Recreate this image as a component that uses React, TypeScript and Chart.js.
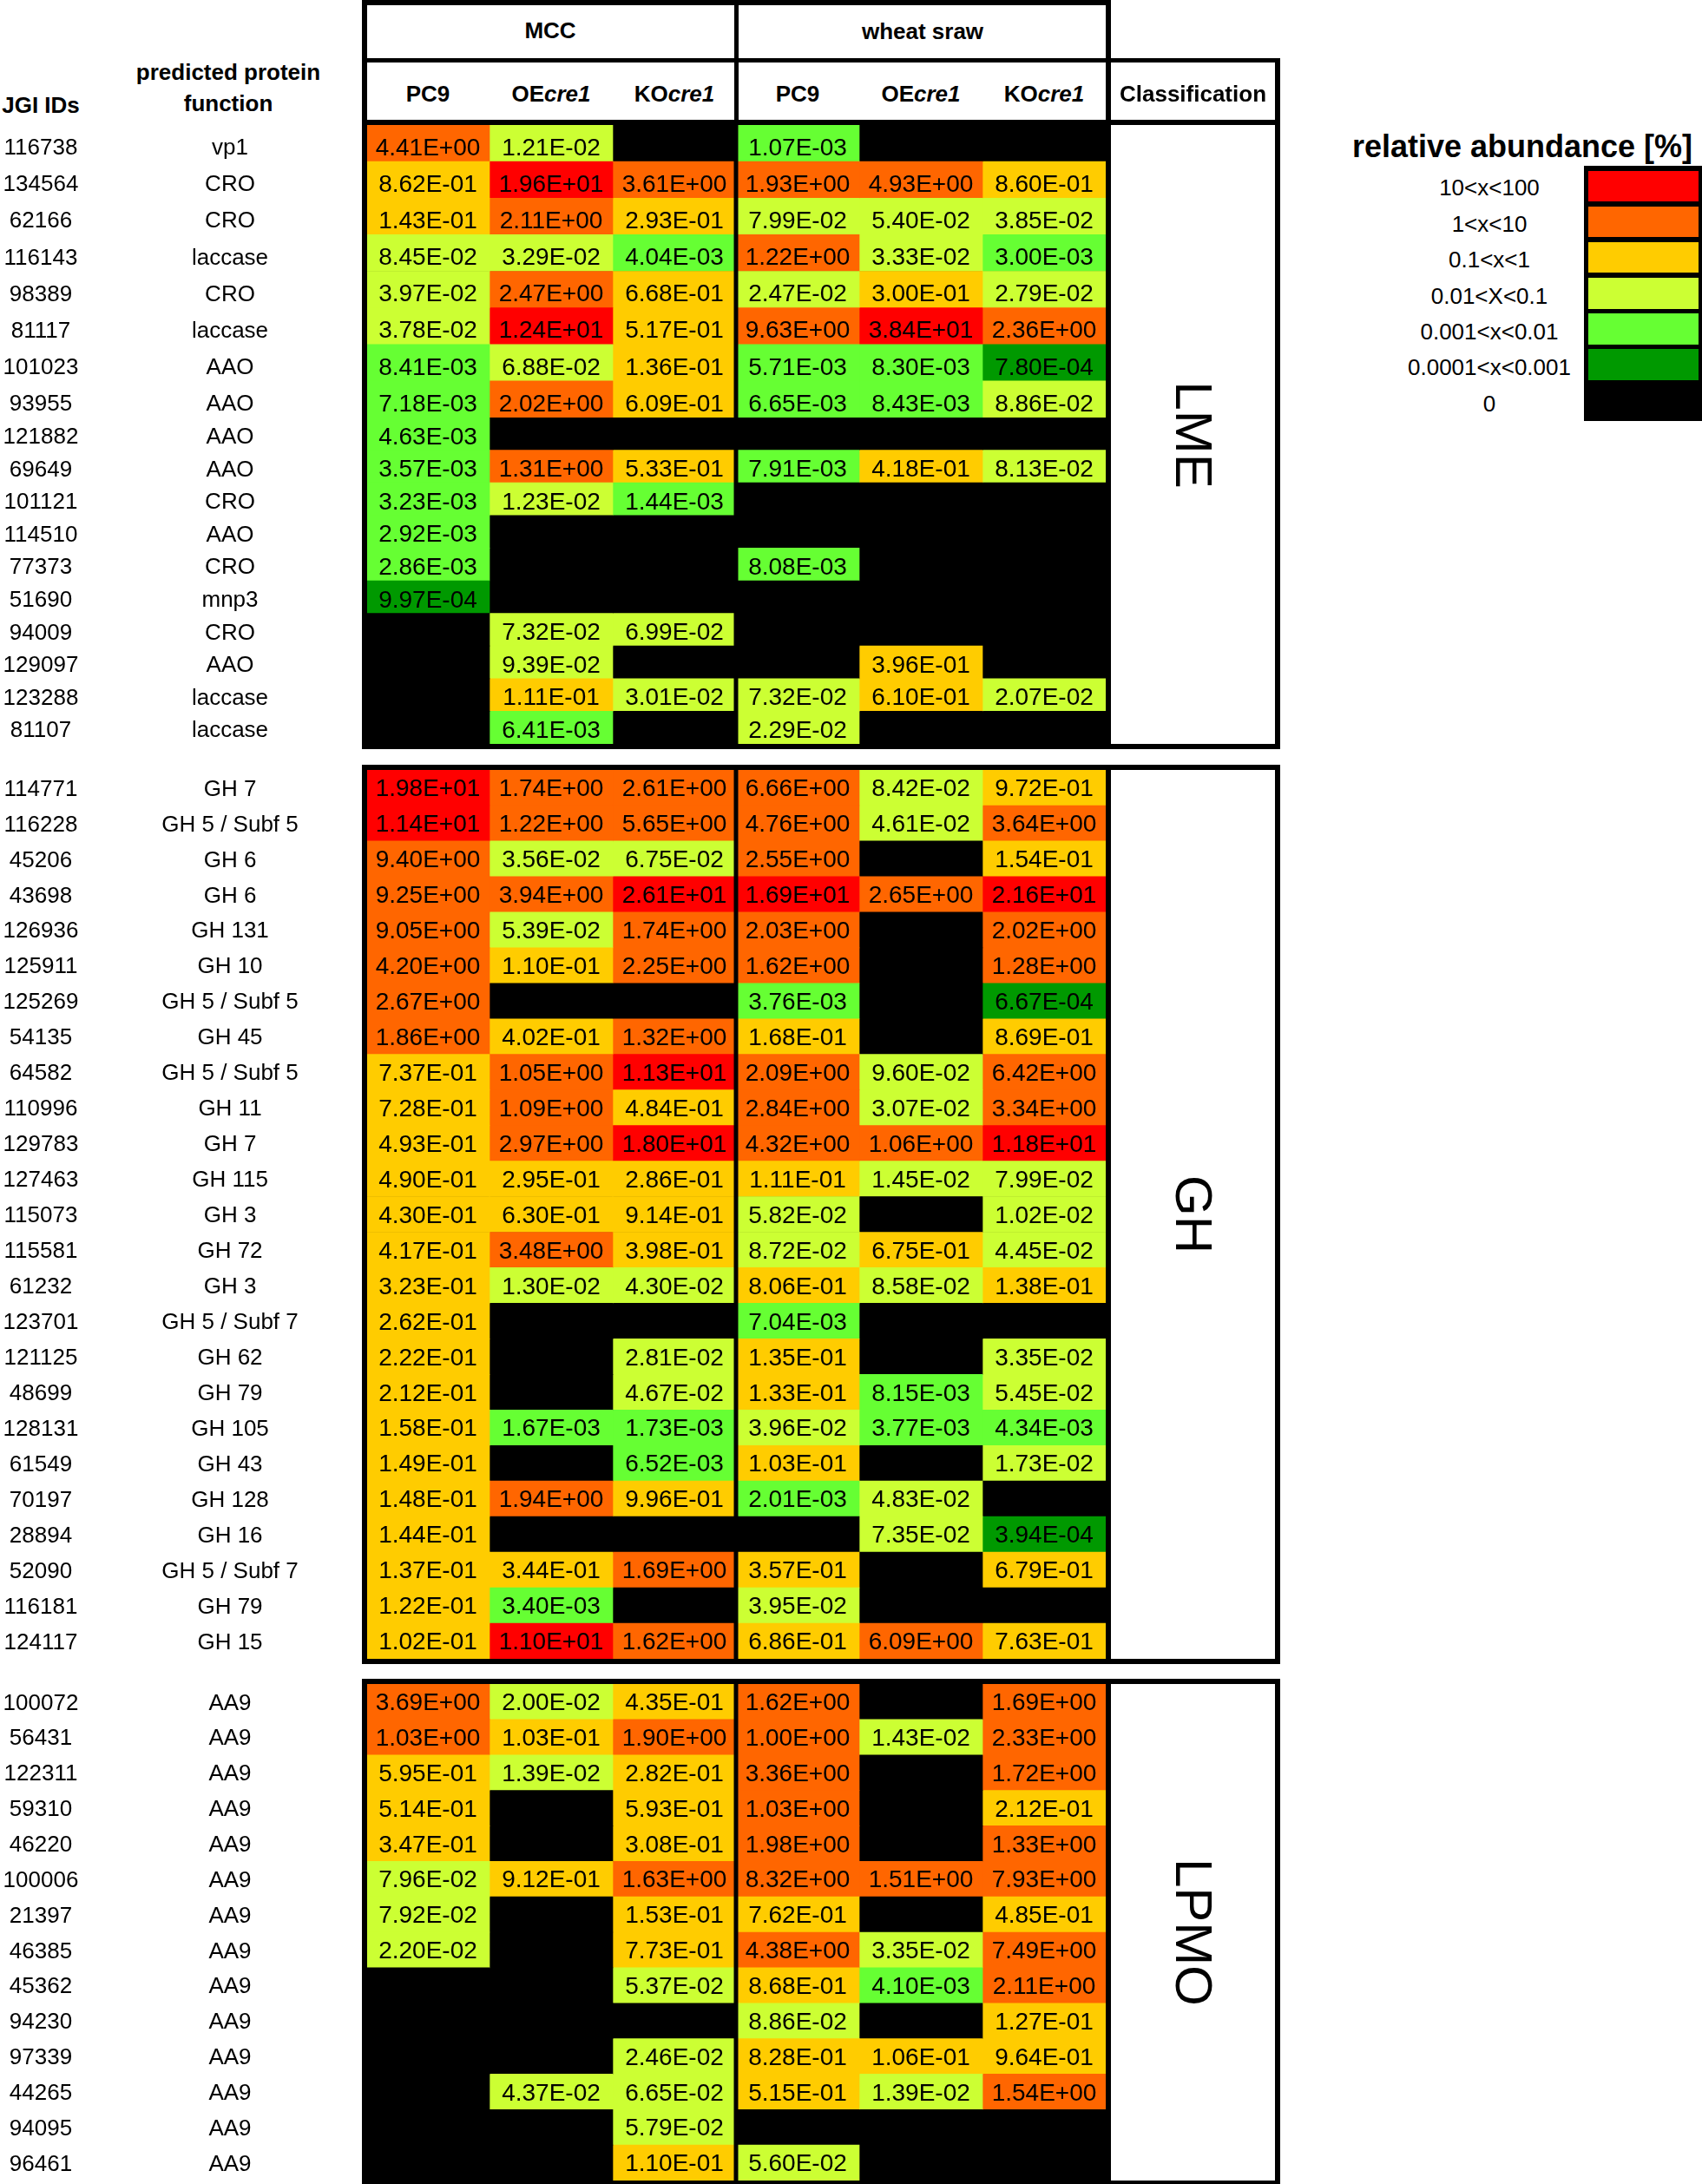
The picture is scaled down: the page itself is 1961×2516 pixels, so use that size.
import React, { useEffect, useRef } from "react";
import { Chart, registerables } from "chart.js";

Chart.register(...registerables);

// ---------------- data ----------------
const conditions = ["MCC", "wheat sraw"];
const strainPrefixes = ["PC9", "OE", "KO"];
const strainSuffixes = ["", "cre1", "cre1"];
const classificationLabels = ["LME", "GH", "LPMO"];

const legendTitle = "relative abundance [%]";
const legendLabels = ["10<x<100", "1<x<10", "0.1<x<1", "0.01<X<0.1", "0.001<x<0.01", "0.0001<x<0.001", "0"];
const legendColors = ["#FF0000", "#FF6600", "#FFCC00", "#CCFF33", "#66FF33", "#009900", "#000000"];
const colorThresholds = [10, 1, 0.1, 0.01, 0.001, 0.0001];

const lmeIds = ["116738", "134564", "62166", "116143", "98389", "81117", "101023", "93955", "121882", "69649", "101121", "114510", "77373", "51690", "94009", "129097", "123288", "81107"];
const lmeFunctions = ["vp1", "CRO", "CRO", "laccase", "CRO", "laccase", "AAO", "AAO", "AAO", "AAO", "CRO", "AAO", "CRO", "mnp3", "CRO", "AAO", "laccase", "laccase"];
// columns: MCC PC9, MCC OEcre1, MCC KOcre1, wheat PC9, wheat OEcre1, wheat KOcre1
const lmeValues = [
  [4.41e0, 1.21e-2, 0, 1.07e-3, 0, 0],
  [8.62e-1, 1.96e1, 3.61e0, 1.93e0, 4.93e0, 8.6e-1],
  [1.43e-1, 2.11e0, 2.93e-1, 7.99e-2, 5.4e-2, 3.85e-2],
  [8.45e-2, 3.29e-2, 4.04e-3, 1.22e0, 3.33e-2, 3.0e-3],
  [3.97e-2, 2.47e0, 6.68e-1, 2.47e-2, 3.0e-1, 2.79e-2],
  [3.78e-2, 1.24e1, 5.17e-1, 9.63e0, 3.84e1, 2.36e0],
  [8.41e-3, 6.88e-2, 1.36e-1, 5.71e-3, 8.3e-3, 7.8e-4],
  [7.18e-3, 2.02e0, 6.09e-1, 6.65e-3, 8.43e-3, 8.86e-2],
  [4.63e-3, 0, 0, 0, 0, 0],
  [3.57e-3, 1.31e0, 5.33e-1, 7.91e-3, 4.18e-1, 8.13e-2],
  [3.23e-3, 1.23e-2, 1.44e-3, 0, 0, 0],
  [2.92e-3, 0, 0, 0, 0, 0],
  [2.86e-3, 0, 0, 8.08e-3, 0, 0],
  [9.97e-4, 0, 0, 0, 0, 0],
  [0, 7.32e-2, 6.99e-2, 0, 0, 0],
  [0, 9.39e-2, 0, 0, 3.96e-1, 0],
  [0, 1.11e-1, 3.01e-2, 7.32e-2, 6.1e-1, 2.07e-2],
  [0, 6.41e-3, 0, 2.29e-2, 0, 0],
];

const ghIds = ["114771", "116228", "45206", "43698", "126936", "125911", "125269", "54135", "64582", "110996", "129783", "127463", "115073", "115581", "61232", "123701", "121125", "48699", "128131", "61549", "70197", "28894", "52090", "116181", "124117"];
const ghFunctions = ["GH 7", "GH 5 / Subf 5", "GH 6", "GH 6", "GH 131", "GH 10", "GH 5 / Subf 5", "GH 45", "GH 5 / Subf 5", "GH 11", "GH 7", "GH 115", "GH 3", "GH 72", "GH 3", "GH 5 / Subf 7", "GH 62", "GH 79", "GH 105", "GH 43", "GH 128", "GH 16", "GH 5 / Subf 7", "GH 79", "GH 15"];
const ghValues = [
  [1.98e1, 1.74e0, 2.61e0, 6.66e0, 8.42e-2, 9.72e-1],
  [1.14e1, 1.22e0, 5.65e0, 4.76e0, 4.61e-2, 3.64e0],
  [9.4e0, 3.56e-2, 6.75e-2, 2.55e0, 0, 1.54e-1],
  [9.25e0, 3.94e0, 2.61e1, 1.69e1, 2.65e0, 2.16e1],
  [9.05e0, 5.39e-2, 1.74e0, 2.03e0, 0, 2.02e0],
  [4.2e0, 1.1e-1, 2.25e0, 1.62e0, 0, 1.28e0],
  [2.67e0, 0, 0, 3.76e-3, 0, 6.67e-4],
  [1.86e0, 4.02e-1, 1.32e0, 1.68e-1, 0, 8.69e-1],
  [7.37e-1, 1.05e0, 1.13e1, 2.09e0, 9.6e-2, 6.42e0],
  [7.28e-1, 1.09e0, 4.84e-1, 2.84e0, 3.07e-2, 3.34e0],
  [4.93e-1, 2.97e0, 1.8e1, 4.32e0, 1.06e0, 1.18e1],
  [4.9e-1, 2.95e-1, 2.86e-1, 1.11e-1, 1.45e-2, 7.99e-2],
  [4.3e-1, 6.3e-1, 9.14e-1, 5.82e-2, 0, 1.02e-2],
  [4.17e-1, 3.48e0, 3.98e-1, 8.72e-2, 6.75e-1, 4.45e-2],
  [3.23e-1, 1.3e-2, 4.3e-2, 8.06e-1, 8.58e-2, 1.38e-1],
  [2.62e-1, 0, 0, 7.04e-3, 0, 0],
  [2.22e-1, 0, 2.81e-2, 1.35e-1, 0, 3.35e-2],
  [2.12e-1, 0, 4.67e-2, 1.33e-1, 8.15e-3, 5.45e-2],
  [1.58e-1, 1.67e-3, 1.73e-3, 3.96e-2, 3.77e-3, 4.34e-3],
  [1.49e-1, 0, 6.52e-3, 1.03e-1, 0, 1.73e-2],
  [1.48e-1, 1.94e0, 9.96e-1, 2.01e-3, 4.83e-2, 0],
  [1.44e-1, 0, 0, 0, 7.35e-2, 3.94e-4],
  [1.37e-1, 3.44e-1, 1.69e0, 3.57e-1, 0, 6.79e-1],
  [1.22e-1, 3.4e-3, 0, 3.95e-2, 0, 0],
  [1.02e-1, 1.1e1, 1.62e0, 6.86e-1, 6.09e0, 7.63e-1],
];

const lpmoIds = ["100072", "56431", "122311", "59310", "46220", "100006", "21397", "46385", "45362", "94230", "97339", "44265", "94095", "96461"];
const lpmoFunctions = ["AA9", "AA9", "AA9", "AA9", "AA9", "AA9", "AA9", "AA9", "AA9", "AA9", "AA9", "AA9", "AA9", "AA9"];
const lpmoValues = [
  [3.69e0, 2.0e-2, 4.35e-1, 1.62e0, 0, 1.69e0],
  [1.03e0, 1.03e-1, 1.9e0, 1.0e0, 1.43e-2, 2.33e0],
  [5.95e-1, 1.39e-2, 2.82e-1, 3.36e0, 0, 1.72e0],
  [5.14e-1, 0, 5.93e-1, 1.03e0, 0, 2.12e-1],
  [3.47e-1, 0, 3.08e-1, 1.98e0, 0, 1.33e0],
  [7.96e-2, 9.12e-1, 1.63e0, 8.32e0, 1.51e0, 7.93e0],
  [7.92e-2, 0, 1.53e-1, 7.62e-1, 0, 4.85e-1],
  [2.2e-2, 0, 7.73e-1, 4.38e0, 3.35e-2, 7.49e0],
  [0, 0, 5.37e-2, 8.68e-1, 4.1e-3, 2.11e0],
  [0, 0, 0, 8.86e-2, 0, 1.27e-1],
  [0, 0, 2.46e-2, 8.28e-1, 1.06e-1, 9.64e-1],
  [0, 4.37e-2, 6.65e-2, 5.15e-1, 1.39e-2, 1.54e0],
  [0, 0, 5.79e-2, 0, 0, 0],
  [0, 0, 1.1e-1, 5.6e-2, 0, 0],
];

// ---------------- helpers ----------------
const FONT = '"Liberation Sans", Arial, sans-serif';
const CELL_FONT = 28;
const LABEL_FONT = 26;
const ID_X = 47;
const FUNC_X = 265;
const TABLE_LEFT = 422;
const TABLE_RIGHT = 1274;

function colorFor(v: number): string {
  if (!(v > 0)) return legendColors[legendColors.length - 1];
  for (let i = 0; i < colorThresholds.length; i++) {
    if (v >= colorThresholds[i]) return legendColors[i];
  }
  return legendColors[colorThresholds.length - 1];
}

function formatValue(v: number): string {
  const [m, e] = v.toExponential(2).split("e");
  const n = parseInt(e, 10);
  return `${m}E${n < 0 ? "-" : "+"}${String(Math.abs(n)).padStart(2, "0")}`;
}

type HeatProps = {
  ids: string[];
  funcs: string[];
  values: number[][];
  top: number;
  height: number;
  textOffset: number;
};

function HeatChart({ ids, funcs, values, top, height, textOffset }: HeatProps) {
  const ref = useRef<HTMLCanvasElement | null>(null);
  useEffect(() => {
    const canvas = ref.current;
    if (!canvas) return;
    const nCols = values[0].length;
    const cellPlugin = {
      id: "cellText",
      beforeDatasetsDraw(chart: any) {
        const { ctx, chartArea } = chart;
        ctx.save();
        ctx.fillStyle = "#000";
        ctx.fillRect(chartArea.left, chartArea.top, chartArea.right - chartArea.left, chartArea.bottom - chartArea.top);
        ctx.restore();
      },
      afterDatasetsDraw(chart: any) {
        const { ctx, chartArea } = chart;
        ctx.save();
        ctx.fillStyle = "#000";
        ctx.textAlign = "center";
        ctx.textBaseline = "middle";
        ctx.font = `${CELL_FONT}px ${FONT}`;
        chart.data.datasets.forEach((_: any, ci: number) => {
          chart.getDatasetMeta(ci).data.forEach((el: any, ri: number) => {
            const v = values[ri][ci];
            if (v > 0) {
              const p = el.getCenterPoint();
              ctx.fillText(formatValue(v), p.x, p.y + textOffset);
            }
          });
        });
        // divider between the two growth conditions
        const gx = chart.scales.x.getPixelForValue(3);
        ctx.fillRect(gx - 2.5, chartArea.top, 5, chartArea.bottom - chartArea.top);
        // row labels
        ctx.font = `${LABEL_FONT}px ${FONT}`;
        const ys = chart.scales.y;
        ids.forEach((id, i) => {
          const y = ys.getPixelForValue(i) + textOffset;
          ctx.fillText(id, ID_X, y);
          ctx.fillText(funcs[i], FUNC_X, y);
        });
        ctx.restore();
      },
    };
    const chart = new Chart(canvas, {
      type: "bar",
      data: {
        labels: ids,
        datasets: Array.from({ length: nCols }, (_, ci) => ({
          label: `${conditions[Math.floor(ci / 3)]} ${strainPrefixes[ci % 3]}${strainSuffixes[ci % 3]}`,
          data: values.map(() => [ci, ci + 1]),
          backgroundColor: values.map((r) => colorFor(r[ci])),
          borderWidth: 0,
          grouped: false,
          barPercentage: 1,
          categoryPercentage: 1,
        })),
      } as any,
      options: {
        indexAxis: "y",
        animation: false,
        responsive: false,
        devicePixelRatio: 1,
        events: [],
        layout: { padding: { left: TABLE_LEFT, right: 0, top: 0, bottom: 0 } },
        scales: {
          x: { type: "linear", min: 0, max: nCols, display: false },
          y: { type: "category", offset: true, display: false },
        },
        plugins: { legend: { display: false }, tooltip: { enabled: false } },
      } as any,
      plugins: [cellPlugin],
    });
    return () => chart.destroy();
  }, []);
  return (
    <canvas
      ref={ref}
      width={TABLE_RIGHT}
      height={height}
      style={{ position: "absolute", left: 0, top, width: TABLE_RIGHT, height }}
    />
  );
}

function T({ x, y, size, bold, children, anchor }: any) {
  const tx = anchor === "left" ? "0" : anchor === "right" ? "-100%" : "-50%";
  return (
    <div
      style={{
        position: "absolute",
        left: x,
        top: y,
        transform: `translate(${tx}, -50%)`,
        font: `${bold ? "bold " : ""}${size}px ${FONT}`,
        lineHeight: 1,
        whiteSpace: "nowrap",
        color: "#000",
      }}
    >
      {children}
    </div>
  );
}

function R({ x, y, w, h, c }: any) {
  return <div style={{ position: "absolute", left: x, top: y, width: w, height: h, background: c || "#000" }} />;
}

const sectionFrames = [
  { top: 138, height: 725 },
  { top: 881, height: 1036 },
  { top: 1934, height: 584 },
];

const colCenters = [493, 635, 777, 919, 1061, 1203];

export default function App() {
  useEffect(() => {
    document.body.style.margin = "0";
    document.documentElement.style.overflow = "hidden";
  }, []);
  return (
    <div
      style={{
        position: "absolute",
        left: 0,
        top: 0,
        width: 1961,
        height: 2516,
        overflow: "hidden",
        background: "#fff",
      }}
    >
      {/* heatmap sections */}
      <HeatChart ids={lmeIds.slice(0, 8)} funcs={lmeFunctions.slice(0, 8)} values={lmeValues.slice(0, 8)} top={144} height={337} textOffset={6} />
      <HeatChart ids={lmeIds.slice(8)} funcs={lmeFunctions.slice(8)} values={lmeValues.slice(8)} top={481} height={376} textOffset={4} />
      <HeatChart ids={ghIds} funcs={ghFunctions} values={ghValues} top={887} height={1024} textOffset={2} />
      <HeatChart ids={lpmoIds} funcs={lpmoFunctions} values={lpmoValues} top={1940} height={572} textOffset={2} />

      {/* section frames + classification column */}
      {sectionFrames.map((f, i) => (
        <React.Fragment key={i}>
          <div
            style={{
              position: "absolute",
              left: 417,
              top: f.top,
              width: 1058,
              height: f.height,
              border: "6px solid #000",
              boxSizing: "border-box",
              pointerEvents: "none",
            }}
          />
          <R x={TABLE_RIGHT} y={f.top} w={6} h={f.height} />
          <div
            style={{
              position: "absolute",
              left: 1374.5,
              top: f.top + f.height / 2,
              transform: "translate(-50%, -50%) rotate(90deg)",
              font: `60px ${FONT}`,
              lineHeight: 1,
              whiteSpace: "nowrap",
            }}
          >
            {classificationLabels[i]}
          </div>
        </React.Fragment>
      ))}

      {/* header grid */}
      <R x={417} y={0} w={863} h={6} />
      <R x={417} y={0} w={6} h={144} />
      <R x={846} y={0} w={5} h={144} />
      <R x={1274} y={0} w={6} h={144} />
      <R x={417} y={67} w={1058} h={5} />
      <R x={1469} y={67} w={6} h={77} />

      <T x={634} y={35} size={26} bold>{conditions[0]}</T>
      <T x={1063} y={36} size={26} bold>{conditions[1]}</T>
      {colCenters.map((cx, ci) => (
        <T key={ci} x={cx} y={107.5} size={26} bold>
          {strainPrefixes[ci % 3]}
          {strainSuffixes[ci % 3] ? <i>{strainSuffixes[ci % 3]}</i> : null}
        </T>
      ))}
      <T x={1374.5} y={107.5} size={26} bold>Classification</T>

      <T x={47} y={120.5} size={26} bold>JGI IDs</T>
      <T x={263} y={82.5} size={26} bold>predicted protein</T>
      <T x={263} y={119} size={26} bold>function</T>

      {/* legend */}
      <T x={1754} y={169} size={36} bold>{legendTitle}</T>
      <R x={1825} y={191} w={136} h={294} />
      {legendColors.map((c, i) => (
        <R key={i} x={1830} y={196.7 + i * 41.1} w={127} h={35.5} c={c} />
      ))}
      {legendLabels.map((l, i) => (
        <T key={i} x={1716} y={216.3 + i * 41.4} size={26}>{l}</T>
      ))}
    </div>
  );
}
